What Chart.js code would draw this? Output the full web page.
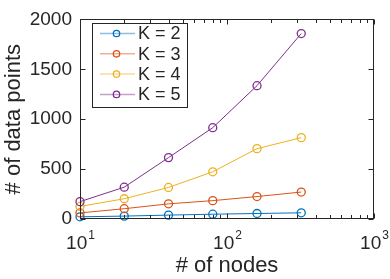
<!DOCTYPE html>
<html>
<head>
<meta charset="utf-8">
<script src="https://cdn.jsdelivr.net/npm/chart.js@4.4.1/dist/chart.umd.min.js"></script>
<style>
  html, body { margin: 0; padding: 0; background: #fff; }
  #chart { display: block; }
</style>
</head>
<body>
<canvas id="chart" width="390" height="279"></canvas>
<script>
const nodes = [10, 20, 40, 80, 160, 320];
const k2 = [22, 29, 39, 48, 55, 62];
const k3 = [61, 103, 152, 184, 225, 270];
const k4 = [126, 203, 316, 473, 705, 815];
const k5 = [174, 319, 615, 915, 1336, 1858];
const seriesLabels = ['K = 2', 'K = 3', 'K = 4', 'K = 5'];
const seriesColors = ['#0072BD', '#D95319', '#EDB120', '#7E2F8E'];
const yTicks = [0, 500, 1000, 1500, 2000];
const xDecades = [1, 2, 3];

const FONT = "'Liberation Sans', Arial, Helvetica, sans-serif";
const AXIS_COLOR = '#262626';

const makeDataset = (values, i) => ({
  label: seriesLabels[i],
  data: nodes.map((n, j) => ({ x: n, y: values[j] })),
  borderColor: seriesColors[i],
  borderWidth: 1,
  pointStyle: 'circle',
  pointRadius: 4,
  pointBorderWidth: 1.3,
  pointBorderColor: seriesColors[i],
  pointBackgroundColor: 'rgba(0,0,0,0)',
  tension: 0,
  clip: false,
  order: 3 - i,
});

// box, inward ticks, log tick labels and the legend, MATLAB style
const matlabAxes = {
  id: 'matlabAxes',
  afterDraw(chart) {
    const { ctx, chartArea: a, scales } = chart;
    const xs = scales.x;
    const ys = scales.y;
    const L = Math.round(a.left) + 0.5;
    const R = Math.round(a.right) - 0.5;
    const T = Math.round(a.top) + 0.5;
    const B = Math.round(a.bottom) - 0.5;

    ctx.save();
    ctx.strokeStyle = AXIS_COLOR;
    ctx.lineWidth = 1;
    ctx.strokeRect(L, T, R - L, B - T);

    ctx.beginPath();
    yTicks.forEach((v) => {
      const py = Math.round(ys.getPixelForValue(v)) + 0.5;
      ctx.moveTo(L, py); ctx.lineTo(L + 5, py);
      ctx.moveTo(R, py); ctx.lineTo(R - 5, py);
    });
    for (let d = xDecades[0]; d <= xDecades[xDecades.length - 1]; d++) {
      for (let m = 1; m <= 9; m++) {
        if (d === xDecades[xDecades.length - 1] && m > 1) break;
        const px = Math.round(xs.getPixelForValue(m * Math.pow(10, d))) + 0.5;
        const len = m === 1 ? 5 : 3.5;
        ctx.moveTo(px, B); ctx.lineTo(px, B - len);
        ctx.moveTo(px, T); ctx.lineTo(px, T + len);
      }
    }
    ctx.stroke();

    // x tick labels 10^d
    ctx.fillStyle = AXIS_COLOR;
    ctx.textBaseline = 'alphabetic';
    ctx.textAlign = 'left';
    xDecades.forEach((d) => {
      const px = xs.getPixelForValue(Math.pow(10, d));
      ctx.font = '19px ' + FONT;
      const wBase = ctx.measureText('10').width;
      ctx.font = '12px ' + FONT;
      const wExp = ctx.measureText(String(d)).width;
      const x0 = px - (wBase + wExp) / 2;
      ctx.font = '19px ' + FONT;
      ctx.fillText('10', x0, 249);
      ctx.font = '12px ' + FONT;
      ctx.fillText(String(d), x0 + wBase + 1, 239);
    });

    // legend
    const lx = 92.5, ly = 23.5, lw = 95, lh = 84;
    ctx.fillStyle = '#fff';
    ctx.fillRect(lx, ly, lw, lh);
    ctx.strokeStyle = AXIS_COLOR;
    ctx.strokeRect(lx, ly, lw, lh);
    chart.data.datasets.forEach((ds, i) => {
      const cy = 33.5 + i * 20.3;
      ctx.strokeStyle = ds.borderColor;
      ctx.globalAlpha = 0.45;
      ctx.lineWidth = 1.5;
      ctx.beginPath();
      ctx.moveTo(100, cy); ctx.lineTo(135, cy);
      ctx.stroke();
      ctx.globalAlpha = 1;
      ctx.lineWidth = 1.3;
      ctx.beginPath();
      ctx.arc(116.5, cy, 3.2, 0, Math.PI * 2);
      ctx.stroke();
      ctx.fillStyle = AXIS_COLOR;
      ctx.font = '18px ' + FONT;
      ctx.textBaseline = 'middle';
      ctx.fillText(ds.label, 138, cy + 1);
    });
    ctx.restore();
  },
};

const config = {
  type: 'line',
  data: {
    datasets: [k2, k3, k4, k5].map(makeDataset),
  },
  options: {
    responsive: false,
    animation: false,
    devicePixelRatio: 1,
    layout: { padding: { top: 12, right: 16, left: 0, bottom: 0 } },
    plugins: {
      legend: { display: false },
      tooltip: { enabled: false },
    },
    scales: {
      x: {
        type: 'logarithmic',
        min: 10,
        max: 1000,
        grid: { display: false, drawTicks: false },
        border: { display: false },
        ticks: { display: false },
        title: {
          display: true,
          text: '# of nodes',
          color: AXIS_COLOR,
          font: { family: FONT, size: 22 },
          padding: 0,
        },
        afterFit(scale) { scale.height = 60; },
      },
      y: {
        min: 0,
        max: 2000,
        grid: { display: false, drawTicks: false },
        border: { display: false },
        ticks: {
          stepSize: 500,
          color: AXIS_COLOR,
          font: { family: FONT, size: 19 },
          padding: 8,
          callback: (value) => String(value),
        },
        title: {
          display: true,
          text: '# of data points',
          color: AXIS_COLOR,
          font: { family: FONT, size: 22 },
          padding: { top: 1, bottom: 0 },
        },
        afterFit(scale) { scale.width = 80; },
      },
    },
  },
  plugins: [matlabAxes],
};

const chart = new Chart(document.getElementById('chart'), config);
</script>
</body>
</html>
